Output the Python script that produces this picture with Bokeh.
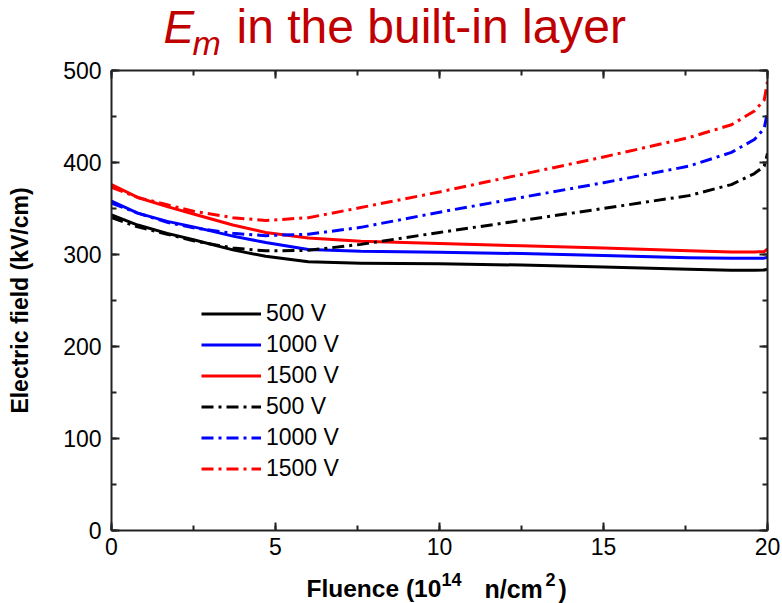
from bokeh.core.properties import value
from bokeh.embed import file_html
from bokeh.layouts import column
from bokeh.models import (CustomJSTickFormatter, Legend, LegendItem,
                          LinearAxis, Range1d, SingleIntervalTicker)
from bokeh.plotting import figure
from bokeh.resources import INLINE

# Fluence in units of 1e14 n/cm^2
fluence = [0, 0.8, 1.7, 2.5, 3.7, 4.7, 6.0, 7.6, 10, 12.5, 15, 17.6, 18.9, 19.6, 19.9, 20]

# Maximum field E_m (kV/cm), solid-line set
solid_500 = [343, 332, 323, 316, 305, 298, 292, 290.5, 290, 288.5, 286.5, 284, 283, 283, 283.2, 284]
solid_1000 = [358, 345, 336, 330, 320, 313, 305.5, 303.5, 302.5, 301, 299, 296.5, 295.8, 295.8, 296, 297]
solid_1500 = [376, 362, 352, 344, 332, 324, 318, 314.5, 312, 309.5, 307, 304, 302.8, 302.6, 303.2, 306]

# Maximum field E_m (kV/cm), dash-dot set
dashdot_500 = [340, 330, 322, 315, 307, 304, 304.5, 311, 324, 337, 350, 364, 376, 388, 396, 410]
dashdot_1000 = [356, 345, 335, 329, 323, 320.5, 322, 329.5, 346, 362, 378, 396, 411, 425, 437, 455]
dashdot_1500 = [373, 362, 354, 347, 340, 337, 340, 351, 368, 387, 406, 427, 441, 456, 468, 488]

legend_labels = ["500 V", "1000 V", "1500 V", "500 V", "1000 V", "1500 V"]

FONT = "Liberation Sans"
TITLE_RED = "#c00000"
AXIS_COLOR = "#222222"
WIDTH = 782
BORDER_L, BORDER_R = 111, 15
TITLE_H = 61


def text_strip(height):
    """A bare figure sharing the main plot's side borders; its data units are
    page pixels horizontally and strip pixels (downward) vertically."""
    f = figure(width=WIDTH, height=height, output_backend="svg",
               toolbar_location=None, title_location=None,
               x_range=Range1d(BORDER_L, WIDTH - BORDER_R),
               y_range=Range1d(height, 0),
               min_border_left=BORDER_L, min_border_right=BORDER_R,
               min_border_top=0, min_border_bottom=0,
               x_axis_type=None, y_axis_type=None)
    f.xgrid.visible = False
    f.ygrid.visible = False
    f.outline_line_color = None
    return f


# ---- title strip: italic E with subscript m, then the rest ----
title_fig = text_strip(TITLE_H)
title_parts = [
    (163, 26, "E", "46px", "italic"),
    (192, 42.5, "m", "34px", "italic"),
    (236, 26, "in the built-in layer", "48px", "normal"),
]
for x, y, txt, size, style in title_parts:
    title_fig.text(x=[x], y=[y], text=[txt], text_font=value(FONT),
                   text_font_size=size, text_font_style=style,
                   text_color=TITLE_RED, text_baseline="alphabetic",
                   text_align="left")

# ---- main plot ----
p = figure(width=WIDTH, height=499, output_backend="svg", toolbar_location=None,
           title_location=None,
           x_range=Range1d(0, 20), y_range=Range1d(0, 500),
           min_border_left=BORDER_L, min_border_right=BORDER_R,
           min_border_top=9, min_border_bottom=30,
           x_axis_type=None, y_axis_type=None)
p.xgrid.visible = False
p.ygrid.visible = False
p.outline_line_color = None
p.background_fill_color = "white"


def style_axis(axis, show_labels):
    axis.axis_line_color = AXIS_COLOR
    axis.axis_line_width = 2
    axis.major_tick_line_color = AXIS_COLOR
    axis.major_tick_line_width = 2
    axis.minor_tick_line_color = AXIS_COLOR
    axis.minor_tick_line_width = 2
    axis.major_tick_in = 8
    axis.major_tick_out = 0
    axis.minor_tick_in = 5
    axis.minor_tick_out = 0
    axis.major_label_text_font = FONT
    axis.major_label_text_font_size = "23px"
    axis.major_label_text_color = "black"
    if not show_labels:
        axis.formatter = CustomJSTickFormatter(code="return ''")
        axis.major_label_standoff = 0


x_ticker = SingleIntervalTicker(interval=5, num_minor_ticks=2)
y_ticker = SingleIntervalTicker(interval=100, num_minor_ticks=2)

bottom = LinearAxis(ticker=x_ticker)
style_axis(bottom, True)
bottom.major_label_standoff = 7
top = LinearAxis(ticker=x_ticker)
style_axis(top, False)
left = LinearAxis(ticker=y_ticker, axis_label="Electric field (kV/cm)")
style_axis(left, True)
left.major_label_standoff = 10
left.axis_label_standoff = 27
left.axis_label_text_font = FONT
left.axis_label_text_font_style = "bold"
left.axis_label_text_font_size = "23px"
left.axis_label_text_color = "black"
right = LinearAxis(ticker=y_ticker)
style_axis(right, False)

p.add_layout(bottom, "below")
p.add_layout(top, "above")
p.add_layout(left, "left")
p.add_layout(right, "right")

DASHDOT = "12 5 3 5"
series = [
    (solid_500, "black", "solid"),
    (solid_1000, "#0000ff", "solid"),
    (solid_1500, "#ff0000", "solid"),
    (dashdot_500, "black", DASHDOT),
    (dashdot_1000, "#0000ff", DASHDOT),
    (dashdot_1500, "#ff0000", DASHDOT),
]
renderers = []
for ys, color, dash in series:
    r = p.line(fluence, ys, line_color=color, line_width=3, line_dash=dash,
               line_join="round")
    renderers.append(r)

legend = Legend(items=[LegendItem(label=lab, renderers=[r])
                       for lab, r in zip(legend_labels, renderers)],
                location=(90, 46), orientation="vertical",
                border_line_color=None, background_fill_alpha=0,
                padding=0, spacing=0, margin=0,
                glyph_width=60, glyph_height=31, label_height=31,
                label_standoff=5,
                label_text_font=FONT, label_text_font_size="23px",
                label_text_color="black")
p.add_layout(legend)

# ---- x-axis label strip with superscripts ----
xlabel_fig = text_strip(43)
xlabel_parts = [
    (306, 28, "Fluence (10", "24.5px"),
    (441, 19, "14", "18px"),
    (484, 28, "n/cm", "25px"),
    (545, 19, "2", "18px"),
    (558, 28, ")", "25px"),
]
for x, y, txt, size in xlabel_parts:
    xlabel_fig.text(x=[x], y=[y], text=[txt], text_font=value(FONT),
                    text_font_size=size, text_font_style="bold",
                    text_color="black", text_baseline="alphabetic",
                    text_align="left")

layout = column(title_fig, p, xlabel_fig, spacing=0)
open("out.html", "w").write(file_html(layout, INLINE))
